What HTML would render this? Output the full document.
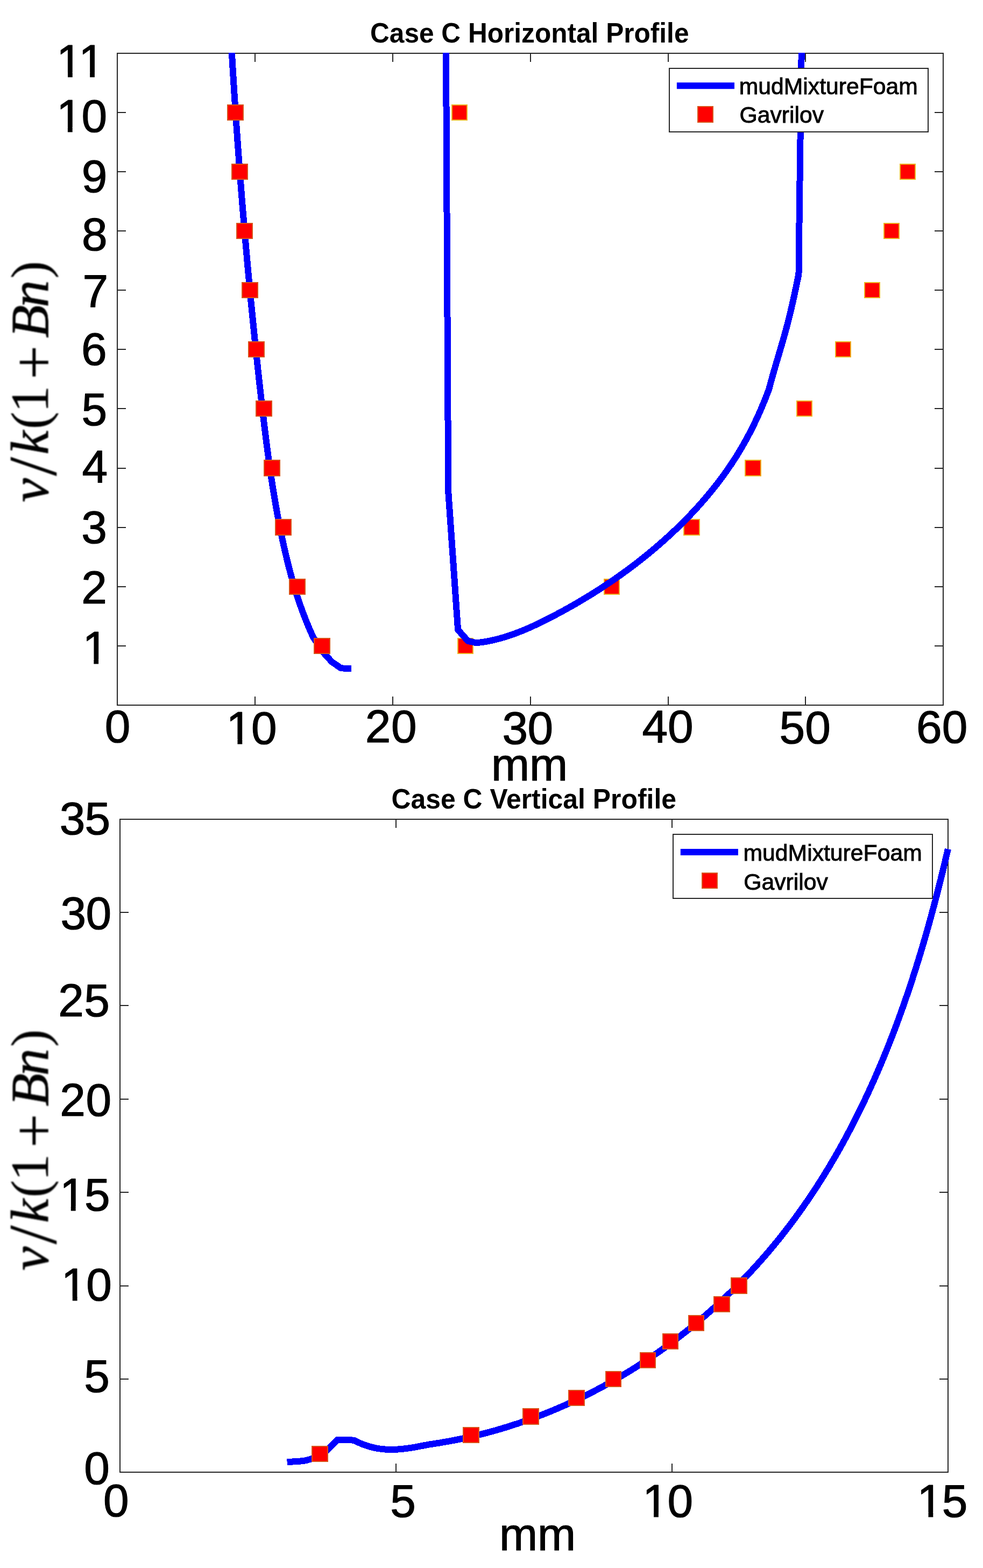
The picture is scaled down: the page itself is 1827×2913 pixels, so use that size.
<!DOCTYPE html>
<html lang="en"><head><meta charset="utf-8"><title>Case C Profiles</title>
<style>html,body{margin:0;padding:0;background:#ffffff;}body{width:1827px;height:2913px;overflow:hidden;}svg{display:block;}text{fill:#000000;}</style>
</head><body>
<svg width="1827" height="2913" viewBox="0 0 1827 2913">
<defs>
<filter id="blur" x="-20%" y="-5%" width="140%" height="110%"><feGaussianBlur stdDeviation="0.9"/></filter>
<clipPath id="c1"><rect x="217.00" y="98.00" width="1537.00" height="1213.00"/></clipPath>
<clipPath id="k1"><path d="M85.05 52.90 H226.21 V172.90 H85.05 Z M108.57 134.61 H125.97 V145.90 H108.57 Z M134.74 134.61 H167.13 V145.90 H134.74 Z M175.90 134.61 H192.64 V145.90 H175.90 Z" clip-rule="evenodd"/></clipPath>
<clipPath id="k2"><path d="M84.96 154.90 H231.42 V274.90 H84.96 Z M108.48 236.61 H125.89 V247.90 H108.48 Z M134.65 236.61 H151.39 V247.90 H134.65 Z" clip-rule="evenodd"/></clipPath>
<clipPath id="k3"><path d="M133.41 1142.80 H233.41 V1262.80 H133.41 Z M156.93 1224.51 H174.33 V1235.80 H156.93 Z M183.10 1224.51 H199.84 V1235.80 H183.10 Z" clip-rule="evenodd"/></clipPath>
<clipPath id="k4"><path d="M400.56 1292.00 H547.02 V1412.00 H400.56 Z M424.08 1373.71 H441.49 V1385.00 H424.08 Z M450.25 1373.71 H466.99 V1385.00 H450.25 Z" clip-rule="evenodd"/></clipPath>
<clipPath id="k5"><path d="M90.89 2159.50 H237.00 V2279.50 H90.89 Z M114.41 2241.21 H131.82 V2252.50 H114.41 Z M140.58 2241.21 H157.32 V2252.50 H140.58 Z" clip-rule="evenodd"/></clipPath>
<clipPath id="k6"><path d="M93.86 2326.70 H240.32 V2446.70 H93.86 Z M117.38 2408.41 H134.79 V2419.70 H117.38 Z M143.55 2408.41 H160.29 V2419.70 H143.55 Z" clip-rule="evenodd"/></clipPath>
<clipPath id="k7"><path d="M1174.16 2727.90 H1320.62 V2847.90 H1174.16 Z M1197.68 2809.61 H1215.09 V2820.90 H1197.68 Z M1223.85 2809.61 H1240.59 V2820.90 H1223.85 Z" clip-rule="evenodd"/></clipPath>
<clipPath id="k8"><path d="M1684.59 2728.10 H1830.70 V2848.10 H1684.59 Z M1708.11 2809.81 H1725.52 V2821.10 H1708.11 Z M1734.28 2809.81 H1751.02 V2821.10 H1734.28 Z" clip-rule="evenodd"/></clipPath>
</defs>
<rect x="0" y="0" width="1827" height="2913" fill="#ffffff"/>
<path d="M474.00 1310.00 V1294.00 M474.00 99.00 V115.00 M730.00 1310.00 V1294.00 M730.00 99.00 V115.00 M986.00 1310.00 V1294.00 M986.00 99.00 V115.00 M1242.00 1310.00 V1294.00 M1242.00 99.00 V115.00 M1497.00 1310.00 V1294.00 M1497.00 99.00 V115.00 M218.00 1200.00 H234.00 M1753.00 1200.00 H1737.00 M218.00 1090.00 H234.00 M1753.00 1090.00 H1737.00 M218.00 980.00 H234.00 M1753.00 980.00 H1737.00 M218.00 870.00 H234.00 M1753.00 870.00 H1737.00 M218.00 759.00 H234.00 M1753.00 759.00 H1737.00 M218.00 649.00 H234.00 M1753.00 649.00 H1737.00 M218.00 539.00 H234.00 M1753.00 539.00 H1737.00 M218.00 429.00 H234.00 M1753.00 429.00 H1737.00 M218.00 319.00 H234.00 M1753.00 319.00 H1737.00 M218.00 209.00 H234.00 M1753.00 209.00 H1737.00" stroke="#262626" stroke-width="2.00" fill="none"/>
<rect x="218.00" y="99.00" width="1535.00" height="1211.00" fill="none" stroke="#262626" stroke-width="2.00"/>
<g clip-path="url(#c1)">
<path d="M430.30 88.01 L430.88 97.96 L431.46 107.92 L432.05 117.88 L432.65 127.84 L433.26 137.81 L433.87 147.77 L434.49 157.74 L435.13 167.71 L435.77 177.69 L436.41 187.66 L437.07 197.64 L437.73 207.62 L438.40 217.60 L439.08 227.59 L439.77 237.57 L440.47 247.56 L441.17 257.55 L441.89 267.54 L442.61 277.53 L443.34 287.52 L444.08 297.52 L444.82 307.51 L445.58 317.51 L446.34 327.50 L447.11 337.50 L447.89 347.50 L448.68 357.50 L449.48 367.50 L450.28 377.50 L451.10 387.50 L451.92 397.50 L452.75 407.50 L453.59 417.50 L454.44 427.51 L455.29 437.51 L456.16 447.51 L457.03 457.51 L457.92 467.51 L458.81 477.51 L459.71 487.52 L460.62 497.52 L461.53 507.52 L462.46 517.52 L463.39 527.52 L464.34 537.51 L465.29 547.51 L466.25 557.51 L467.22 567.50 L468.20 577.50 L469.19 587.49 L470.19 597.48 L471.19 607.47 L472.21 617.46 L473.23 627.45 L474.26 637.44 L475.31 647.42 L476.36 657.40 L477.42 667.39 L478.49 677.37 L479.56 687.34 L480.65 697.32 L481.75 707.29 L482.85 717.26 L483.97 727.23 L485.09 737.20 L486.22 747.16 L487.37 757.12 L488.52 767.08 L489.69 777.04 L490.88 786.99 L492.08 796.93 L493.30 806.87 L494.55 816.81 L495.82 826.74 L497.11 836.66 L498.44 846.57 L499.79 856.48 L501.18 866.38 L502.61 876.27 L504.07 886.14 L505.56 896.01 L507.11 905.87 L508.69 915.72 L510.32 925.56 L511.99 935.38 L513.72 945.19 L515.49 954.99 L517.32 964.78 L519.21 974.55 L521.15 984.30 L523.16 994.04 L525.22 1003.77 L527.35 1013.47 L529.55 1023.17 L531.81 1032.84 L534.15 1042.50 L536.56 1052.13 L539.06 1061.75 L541.65 1071.35 L544.34 1080.93 L547.14 1090.49 L550.05 1100.03 L553.08 1109.54 L556.24 1119.04 L559.54 1128.51 L562.98 1137.96 L566.57 1147.38 L570.32 1156.78 L574.23 1166.16 L578.32 1175.51 L582.58 1184.83 L603.30 1214.80 L616.70 1229.60 L633.80 1241.30 L652.90 1242.30" stroke="#0000ff" stroke-width="12.00" fill="none" stroke-linejoin="round" shape-rendering="crispEdges"/>
</g>
<rect x="423" y="195" width="29" height="28" fill="#ff0000" stroke="#d95319" stroke-width="2"/>
<rect x="431" y="305" width="29" height="28" fill="#ff0000" stroke="#d95319" stroke-width="2"/>
<rect x="440" y="415" width="29" height="28" fill="#ff0000" stroke="#d95319" stroke-width="2"/>
<rect x="450" y="525" width="29" height="28" fill="#ff0000" stroke="#d95319" stroke-width="2"/>
<rect x="462" y="635" width="29" height="28" fill="#ff0000" stroke="#d95319" stroke-width="2"/>
<rect x="476" y="745" width="29" height="28" fill="#ff0000" stroke="#d95319" stroke-width="2"/>
<rect x="491" y="855" width="29" height="29" fill="#ff0000" stroke="#d95319" stroke-width="2"/>
<rect x="512" y="965" width="29" height="29" fill="#ff0000" stroke="#d95319" stroke-width="2"/>
<rect x="538" y="1076" width="29" height="28" fill="#ff0000" stroke="#d95319" stroke-width="2"/>
<rect x="584" y="1186" width="29" height="28" fill="#ff0000" stroke="#d95319" stroke-width="2"/>
<rect x="840" y="195" width="28" height="28" fill="#ff0000" stroke="#edb120" stroke-width="2"/>
<rect x="1673" y="305" width="28" height="28" fill="#ff0000" stroke="#edb120" stroke-width="2"/>
<rect x="1643" y="415" width="28" height="28" fill="#ff0000" stroke="#edb120" stroke-width="2"/>
<rect x="1607" y="525" width="28" height="28" fill="#ff0000" stroke="#edb120" stroke-width="2"/>
<rect x="1553" y="635" width="28" height="28" fill="#ff0000" stroke="#edb120" stroke-width="2"/>
<rect x="1481" y="745" width="28" height="28" fill="#ff0000" stroke="#edb120" stroke-width="2"/>
<rect x="1385" y="855" width="29" height="29" fill="#ff0000" stroke="#edb120" stroke-width="2"/>
<rect x="1271" y="965" width="29" height="29" fill="#ff0000" stroke="#edb120" stroke-width="2"/>
<rect x="1123" y="1076" width="28" height="28" fill="#ff0000" stroke="#edb120" stroke-width="2"/>
<rect x="851" y="1186" width="28" height="28" fill="#ff0000" stroke="#edb120" stroke-width="2"/>
<g clip-path="url(#c1)">
<path d="M828.95 88.00 L829.00 98.00 L831.00 490.00 L833.20 913.00 L851.10 1169.90 L869.50 1190.65 L884.91 1194.31 L894.73 1193.19 L904.50 1191.65 L914.22 1189.73 L923.90 1187.45 L933.52 1184.83 L943.10 1181.90 L952.63 1178.68 L962.11 1175.18 L971.54 1171.45 L980.92 1167.49 L990.25 1163.34 L999.52 1159.02 L1008.74 1154.54 L1017.91 1149.94 L1027.02 1145.24 L1036.08 1140.45 L1045.08 1135.60 L1054.03 1130.68 L1062.92 1125.68 L1071.75 1120.61 L1080.53 1115.46 L1089.24 1110.24 L1097.90 1104.94 L1106.50 1099.57 L1115.04 1094.12 L1123.51 1088.59 L1131.93 1082.99 L1140.28 1077.30 L1148.57 1071.53 L1156.80 1065.68 L1164.97 1059.76 L1173.07 1053.74 L1181.10 1047.65 L1189.07 1041.47 L1196.97 1035.20 L1204.81 1028.85 L1212.58 1022.41 L1220.28 1015.89 L1227.91 1009.27 L1235.47 1002.57 L1242.97 995.78 L1250.39 988.90 L1257.73 981.93 L1264.99 974.87 L1272.17 967.72 L1279.26 960.48 L1286.26 953.15 L1293.17 945.74 L1299.97 938.23 L1306.67 930.64 L1313.27 922.96 L1319.75 915.19 L1326.12 907.34 L1332.38 899.40 L1338.51 891.37 L1344.51 883.25 L1350.39 875.05 L1356.13 866.77 L1361.74 858.39 L1367.20 849.93 L1372.52 841.39 L1377.70 832.75 L1382.73 824.04 L1387.62 815.24 L1392.37 806.35 L1396.99 797.38 L1401.48 788.32 L1405.83 779.19 L1410.05 769.96 L1414.15 760.66 L1418.13 751.26 L1421.98 741.79 L1425.72 732.23 L1429.34 722.59 L1432.01 712.52 L1434.77 702.45 L1437.62 692.39 L1440.53 682.33 L1443.49 672.27 L1446.47 662.21 L1449.45 652.15 L1452.42 642.09 L1455.35 632.01 L1458.23 621.94 L1461.02 611.85 L1463.72 601.74 L1466.31 591.63 L1468.78 581.49 L1471.17 571.34 L1473.48 561.16 L1475.73 550.96 L1477.93 540.74 L1480.10 530.49 L1482.25 520.21 L1484.40 509.90 L1485.10 490.00 L1485.05 450.00 L1487.10 290.00 L1489.70 98.00 L1489.80 88.00" stroke="#0000ff" stroke-width="12.00" fill="none" stroke-linejoin="round" shape-rendering="crispEdges"/>
</g>
<rect x="1244.00" y="127.00" width="481.00" height="118.00" fill="#ffffff" stroke="#262626" stroke-width="2"/>
<path d="M1257.90 159.30 H1365.00" stroke="#0000ff" stroke-width="12.00" fill="none"/>
<rect x="1297" y="198" width="28" height="29" fill="#ff0000" stroke="#d95319" stroke-width="2"/>
<text transform="translate(1373.76 175.40) scale(1.0000 1.0100)" font-family="&quot;Liberation Sans&quot;, sans-serif" font-size="42.70" text-anchor="start" stroke="#000000" stroke-width="0.9">mudMixtureFoam</text>
<text transform="translate(1374.45 227.90) scale(1.0000 1.0100)" font-family="&quot;Liberation Sans&quot;, sans-serif" font-size="42.70" text-anchor="start" stroke="#000000" stroke-width="0.9">Gavrilov</text>
<text transform="translate(688.00 78.90) scale(1.0000 1.0270)" font-family="&quot;Liberation Sans&quot;, sans-serif" font-weight="bold" font-size="49.60" text-anchor="start">Case C Horizontal Profile</text>
<text x="105.05 146.21" y="142.60" font-family="&quot;Liberation Sans&quot;, sans-serif" font-size="85.60" stroke="#000000" stroke-width="1.2" stroke-linejoin="round" clip-path="url(#k1)">11</text>
<text x="104.96 151.42" y="244.60" font-family="&quot;Liberation Sans&quot;, sans-serif" font-size="85.60" stroke="#000000" stroke-width="1.2" stroke-linejoin="round" clip-path="url(#k2)">10</text>
<text x="151.86" y="357.10" font-family="&quot;Liberation Sans&quot;, sans-serif" font-size="85.60" stroke="#000000" stroke-width="1.2" stroke-linejoin="round">9</text>
<text x="152.04" y="464.90" font-family="&quot;Liberation Sans&quot;, sans-serif" font-size="85.60" stroke="#000000" stroke-width="1.2" stroke-linejoin="round">8</text>
<text x="153.50" y="569.60" font-family="&quot;Liberation Sans&quot;, sans-serif" font-size="85.60" stroke="#000000" stroke-width="1.2" stroke-linejoin="round">7</text>
<text x="151.11" y="678.00" font-family="&quot;Liberation Sans&quot;, sans-serif" font-size="85.60" stroke="#000000" stroke-width="1.2" stroke-linejoin="round">6</text>
<text x="151.40" y="789.70" font-family="&quot;Liberation Sans&quot;, sans-serif" font-size="85.60" stroke="#000000" stroke-width="1.2" stroke-linejoin="round">5</text>
<text x="152.40" y="896.10" font-family="&quot;Liberation Sans&quot;, sans-serif" font-size="85.60" stroke="#000000" stroke-width="1.2" stroke-linejoin="round">4</text>
<text x="151.31" y="1009.00" font-family="&quot;Liberation Sans&quot;, sans-serif" font-size="85.60" stroke="#000000" stroke-width="1.2" stroke-linejoin="round">3</text>
<text x="151.36" y="1120.80" font-family="&quot;Liberation Sans&quot;, sans-serif" font-size="85.60" stroke="#000000" stroke-width="1.2" stroke-linejoin="round">2</text>
<text x="153.41" y="1232.50" font-family="&quot;Liberation Sans&quot;, sans-serif" font-size="85.60" stroke="#000000" stroke-width="1.2" stroke-linejoin="round" clip-path="url(#k3)">1</text>
<text x="194.82" y="1379.10" font-family="&quot;Liberation Sans&quot;, sans-serif" font-size="85.60" stroke="#000000" stroke-width="1.2" stroke-linejoin="round">0</text>
<text x="420.56 467.02" y="1381.70" font-family="&quot;Liberation Sans&quot;, sans-serif" font-size="85.60" stroke="#000000" stroke-width="1.2" stroke-linejoin="round" clip-path="url(#k4)">10</text>
<text x="678.65 727.12" y="1379.20" font-family="&quot;Liberation Sans&quot;, sans-serif" font-size="85.60" stroke="#000000" stroke-width="1.2" stroke-linejoin="round">20</text>
<text x="933.38 980.62" y="1382.30" font-family="&quot;Liberation Sans&quot;, sans-serif" font-size="85.60" stroke="#000000" stroke-width="1.2" stroke-linejoin="round">30</text>
<text x="1193.56 1241.12" y="1379.40" font-family="&quot;Liberation Sans&quot;, sans-serif" font-size="85.60" stroke="#000000" stroke-width="1.2" stroke-linejoin="round">40</text>
<text x="1448.49 1496.32" y="1381.00" font-family="&quot;Liberation Sans&quot;, sans-serif" font-size="85.60" stroke="#000000" stroke-width="1.2" stroke-linejoin="round">50</text>
<text x="1702.94 1750.72" y="1380.40" font-family="&quot;Liberation Sans&quot;, sans-serif" font-size="85.60" stroke="#000000" stroke-width="1.2" stroke-linejoin="round">60</text>
<text transform="translate(912.89 1449.50) scale(1.0000 1.0050)" font-family="&quot;Liberation Sans&quot;, sans-serif" font-size="85.40" text-anchor="start" stroke="#000000" stroke-width="1.2">mm</text>
<text transform="translate(89.00 0.00) rotate(-90)" font-family="&quot;Liberation Serif&quot;, serif" stroke="#000000" filter="url(#blur)"><tspan x="-932.77" y="0.00" font-size="100.00" font-style="italic" stroke-width="0.80">v</tspan><tspan x="-884.20" y="15.00" font-size="127.00" stroke-width="0.30">/</tspan><tspan x="-844.58" y="0.00" font-size="100.00" font-style="italic" stroke-width="0.80">k</tspan><tspan x="-797.16" y="-1.00" font-size="97.00" stroke-width="0.30">(</tspan><tspan x="-766.49" y="0.00" font-size="100.00" stroke-width="0.30">1</tspan><tspan x="-704.88" y="12.00" font-size="112.00" stroke-width="0.30">+</tspan><tspan x="-627.73" y="0.00" font-size="100.00" font-style="italic" stroke-width="0.80">B</tspan><tspan x="-570.90" y="0.00" font-size="101.00" font-style="italic" stroke-width="0.80">n</tspan><tspan x="-517.33" y="-1.00" font-size="97.00" stroke-width="0.30">)</tspan></text>
<path d="M736.00 2735.00 V2719.00 M736.00 1522.00 V1538.00 M1249.00 2735.00 V2719.00 M1249.00 1522.00 V1538.00 M223.00 2562.00 H239.00 M1762.00 2562.00 H1746.00 M223.00 2389.00 H239.00 M1762.00 2389.00 H1746.00 M223.00 2215.00 H239.00 M1762.00 2215.00 H1746.00 M223.00 2042.00 H239.00 M1762.00 2042.00 H1746.00 M223.00 1868.00 H239.00 M1762.00 1868.00 H1746.00 M223.00 1695.00 H239.00 M1762.00 1695.00 H1746.00" stroke="#262626" stroke-width="2.00" fill="none"/>
<rect x="223.00" y="1522.00" width="1539.00" height="1213.00" fill="none" stroke="#262626" stroke-width="2.00"/>
<path d="M533.60 2716.10 L555.70 2714.80 L567.60 2713.40 L579.20 2710.20 L596.10 2705.50 L627.50 2674.60 L646.80 2674.60 L658.69 2675.99 L664.23 2678.84 L669.86 2681.43 L675.57 2683.74 L681.35 2685.79 L687.20 2687.58 L693.11 2689.10 L699.07 2690.37 L705.09 2691.38 L711.14 2692.14 L717.23 2692.64 L723.35 2692.91 L729.48 2692.93 L735.63 2692.75 L741.79 2692.36 L747.94 2691.81 L754.09 2691.10 L760.23 2690.26 L766.35 2689.31 L772.44 2688.27 L778.49 2687.17 L784.51 2686.01 L790.48 2684.83 L796.39 2683.65 L806.46 2682.17 L816.50 2680.60 L826.52 2678.91 L836.51 2677.12 L846.47 2675.22 L856.40 2673.21 L866.30 2671.09 L876.17 2668.87 L886.00 2666.54 L895.81 2664.11 L905.58 2661.57 L915.32 2658.93 L925.03 2656.18 L934.70 2653.34 L944.33 2650.39 L953.94 2647.34 L963.50 2644.20 L973.03 2640.95 L982.52 2637.61 L991.97 2634.17 L1001.38 2630.63 L1010.76 2626.99 L1020.09 2623.26 L1029.39 2619.44 L1038.64 2615.52 L1047.85 2611.51 L1057.02 2607.41 L1066.15 2603.21 L1075.23 2598.92 L1084.27 2594.55 L1093.27 2590.08 L1102.22 2585.53 L1111.12 2580.88 L1119.98 2576.16 L1128.80 2571.34 L1137.56 2566.44 L1146.28 2561.45 L1154.94 2556.38 L1163.56 2551.22 L1172.13 2545.98 L1180.65 2540.66 L1189.12 2535.26 L1197.53 2529.78 L1205.90 2524.22 L1214.21 2518.58 L1222.47 2512.86 L1230.67 2507.06 L1238.82 2501.18 L1246.91 2495.23 L1254.95 2489.21 L1262.93 2483.11 L1270.86 2476.93 L1278.73 2470.68 L1286.54 2464.36 L1294.29 2457.97 L1301.98 2451.50 L1309.61 2444.97 L1317.18 2438.37 L1324.69 2431.69 L1332.14 2424.95 L1339.53 2418.14 L1346.85 2411.27 L1354.11 2404.32 L1361.31 2397.32 L1368.44 2390.25 L1375.51 2383.11 L1382.51 2375.91 L1389.45 2368.65 L1396.31 2361.33 L1403.12 2353.95 L1409.85 2346.50 L1416.51 2339.00 L1423.11 2331.44 L1429.63 2323.82 L1436.08 2316.14 L1442.47 2308.41 L1448.78 2300.62 L1455.02 2292.77 L1461.18 2284.88 L1467.28 2276.92 L1473.30 2268.92 L1479.25 2260.86 L1485.14 2252.76 L1490.95 2244.60 L1496.69 2236.39 L1502.37 2228.14 L1507.97 2219.83 L1513.51 2211.48 L1518.98 2203.09 L1524.39 2194.64 L1529.73 2186.16 L1535.00 2177.63 L1540.21 2169.05 L1545.35 2160.44 L1550.44 2151.78 L1555.45 2143.08 L1560.41 2134.34 L1565.30 2125.57 L1570.13 2116.75 L1574.91 2107.90 L1579.62 2099.01 L1584.27 2090.09 L1588.86 2081.13 L1593.39 2072.13 L1597.87 2063.10 L1602.28 2054.04 L1606.64 2044.95 L1610.95 2035.83 L1615.19 2026.68 L1619.38 2017.50 L1623.52 2008.29 L1627.60 1999.05 L1631.63 1989.78 L1635.61 1980.49 L1639.53 1971.17 L1643.40 1961.83 L1647.22 1952.47 L1650.99 1943.08 L1654.71 1933.67 L1658.38 1924.24 L1662.00 1914.79 L1665.57 1905.32 L1669.09 1895.83 L1672.56 1886.32 L1675.99 1876.79 L1679.37 1867.25 L1682.71 1857.69 L1686.00 1848.12 L1689.24 1838.53 L1692.44 1828.93 L1695.60 1819.32 L1698.71 1809.70 L1701.78 1800.06 L1704.81 1790.41 L1707.79 1780.76 L1710.74 1771.10 L1713.65 1761.43 L1716.51 1751.75 L1719.34 1742.07 L1722.12 1732.38 L1724.87 1722.69 L1727.58 1712.99 L1730.26 1703.29 L1732.89 1693.59 L1735.49 1683.89 L1738.06 1674.18 L1740.59 1664.48 L1743.09 1654.78 L1745.55 1645.08 L1747.98 1635.38 L1750.37 1625.69 L1752.74 1616.00 L1755.07 1606.32 L1757.37 1596.64 L1759.64 1586.97 L1761.88 1577.31" stroke="#0000ff" stroke-width="12.00" fill="none" stroke-linejoin="round" shape-rendering="crispEdges"/>
<rect x="580" y="2687" width="29" height="28" fill="#ff0000" stroke="#d95319" stroke-width="2"/>
<rect x="861" y="2652" width="29" height="28" fill="#ff0000" stroke="#d95319" stroke-width="2"/>
<rect x="972" y="2617" width="29" height="29" fill="#ff0000" stroke="#d95319" stroke-width="2"/>
<rect x="1057" y="2583" width="29" height="28" fill="#ff0000" stroke="#d95319" stroke-width="2"/>
<rect x="1126" y="2548" width="28" height="28" fill="#ff0000" stroke="#d95319" stroke-width="2"/>
<rect x="1190" y="2513" width="28" height="28" fill="#ff0000" stroke="#d95319" stroke-width="2"/>
<rect x="1232" y="2478" width="28" height="28" fill="#ff0000" stroke="#d95319" stroke-width="2"/>
<rect x="1280" y="2444" width="28" height="28" fill="#ff0000" stroke="#d95319" stroke-width="2"/>
<rect x="1327" y="2409" width="29" height="28" fill="#ff0000" stroke="#d95319" stroke-width="2"/>
<rect x="1359" y="2374" width="29" height="29" fill="#ff0000" stroke="#d95319" stroke-width="2"/>
<rect x="1251.00" y="1550.00" width="482.00" height="119.00" fill="#ffffff" stroke="#262626" stroke-width="2"/>
<path d="M1264.80 1583.00 H1371.90" stroke="#0000ff" stroke-width="12.00" fill="none"/>
<rect x="1305" y="1622" width="28" height="28" fill="#ff0000" stroke="#d95319" stroke-width="2"/>
<text transform="translate(1381.56 1598.90) scale(1.0000 1.0100)" font-family="&quot;Liberation Sans&quot;, sans-serif" font-size="42.70" text-anchor="start" stroke="#000000" stroke-width="0.9">mudMixtureFoam</text>
<text transform="translate(1382.25 1652.60) scale(1.0000 1.0100)" font-family="&quot;Liberation Sans&quot;, sans-serif" font-size="42.70" text-anchor="start" stroke="#000000" stroke-width="0.9">Gavrilov</text>
<text transform="translate(727.43 1501.90) scale(1.0000 1.0270)" font-family="&quot;Liberation Sans&quot;, sans-serif" font-weight="bold" font-size="49.90" text-anchor="start">Case C Vertical Profile</text>
<text x="110.71 157.60" y="1549.70" font-family="&quot;Liberation Sans&quot;, sans-serif" font-size="85.60" stroke="#000000" stroke-width="1.2" stroke-linejoin="round">35</text>
<text x="112.38 159.62" y="1726.00" font-family="&quot;Liberation Sans&quot;, sans-serif" font-size="85.60" stroke="#000000" stroke-width="1.2" stroke-linejoin="round">30</text>
<text x="108.18 156.30" y="1887.80" font-family="&quot;Liberation Sans&quot;, sans-serif" font-size="85.60" stroke="#000000" stroke-width="1.2" stroke-linejoin="round">25</text>
<text x="111.15 159.62" y="2073.00" font-family="&quot;Liberation Sans&quot;, sans-serif" font-size="85.60" stroke="#000000" stroke-width="1.2" stroke-linejoin="round">20</text>
<text x="110.89 157.00" y="2249.20" font-family="&quot;Liberation Sans&quot;, sans-serif" font-size="85.60" stroke="#000000" stroke-width="1.2" stroke-linejoin="round" clip-path="url(#k5)">15</text>
<text x="113.86 160.32" y="2416.40" font-family="&quot;Liberation Sans&quot;, sans-serif" font-size="85.60" stroke="#000000" stroke-width="1.2" stroke-linejoin="round" clip-path="url(#k6)">10</text>
<text x="156.30" y="2586.20" font-family="&quot;Liberation Sans&quot;, sans-serif" font-size="85.60" stroke="#000000" stroke-width="1.2" stroke-linejoin="round">5</text>
<text x="156.22" y="2757.40" font-family="&quot;Liberation Sans&quot;, sans-serif" font-size="85.60" stroke="#000000" stroke-width="1.2" stroke-linejoin="round">0</text>
<text x="191.92" y="2817.40" font-family="&quot;Liberation Sans&quot;, sans-serif" font-size="85.60" stroke="#000000" stroke-width="1.2" stroke-linejoin="round">0</text>
<text x="725.20" y="2818.00" font-family="&quot;Liberation Sans&quot;, sans-serif" font-size="85.60" stroke="#000000" stroke-width="1.2" stroke-linejoin="round">5</text>
<text x="1194.16 1240.62" y="2817.60" font-family="&quot;Liberation Sans&quot;, sans-serif" font-size="85.60" stroke="#000000" stroke-width="1.2" stroke-linejoin="round" clip-path="url(#k7)">10</text>
<text x="1704.59 1750.70" y="2817.80" font-family="&quot;Liberation Sans&quot;, sans-serif" font-size="85.60" stroke="#000000" stroke-width="1.2" stroke-linejoin="round" clip-path="url(#k8)">15</text>
<text transform="translate(927.89 2879.50) scale(1.0000 1.0050)" font-family="&quot;Liberation Sans&quot;, sans-serif" font-size="85.40" text-anchor="start" stroke="#000000" stroke-width="1.2">mm</text>
<text transform="translate(89.00 1427.40) rotate(-90)" font-family="&quot;Liberation Serif&quot;, serif" stroke="#000000" filter="url(#blur)"><tspan x="-932.77" y="0.00" font-size="100.00" font-style="italic" stroke-width="0.80">v</tspan><tspan x="-884.20" y="15.00" font-size="127.00" stroke-width="0.30">/</tspan><tspan x="-844.58" y="0.00" font-size="100.00" font-style="italic" stroke-width="0.80">k</tspan><tspan x="-797.16" y="-1.00" font-size="97.00" stroke-width="0.30">(</tspan><tspan x="-766.49" y="0.00" font-size="100.00" stroke-width="0.30">1</tspan><tspan x="-704.88" y="12.00" font-size="112.00" stroke-width="0.30">+</tspan><tspan x="-627.73" y="0.00" font-size="100.00" font-style="italic" stroke-width="0.80">B</tspan><tspan x="-570.90" y="0.00" font-size="101.00" font-style="italic" stroke-width="0.80">n</tspan><tspan x="-517.33" y="-1.00" font-size="97.00" stroke-width="0.30">)</tspan></text>
</svg>
</body></html>
